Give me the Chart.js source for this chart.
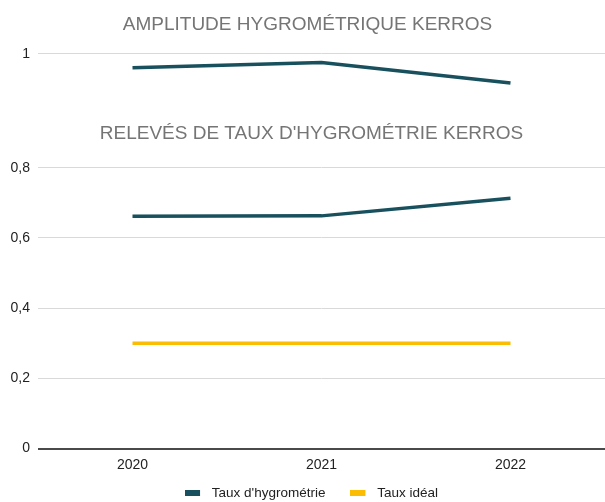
<!DOCTYPE html>
<html>
<head>
<meta charset="utf-8">
<script src="https://cdn.jsdelivr.net/npm/chart.js@4"></script>
<style>
  html, body { margin: 0; padding: 0; background: #fff; }
  #wrap { position: relative; width: 605px; height: 502px; overflow: hidden; }
  #topBox { position: absolute; left: 0; top: 0; width: 605px; height: 112px; }
  #mainBox { position: absolute; left: 0; top: 112px; width: 605px; height: 390px; background: #fff; }
</style>
</head>
<body>
<div id="wrap">
  <div id="topBox"><canvas id="amplitudeChart"></canvas></div>
  <div id="mainBox"><canvas id="tauxChart"></canvas></div>
</div>
<script>
// données
const annees = ['2020', '2021', '2022'];
const amplitude = [0.963, 0.977, 0.923];
const tauxHygrometrie = [0.662, 0.663, 0.713];
const tauxIdeal = [0.3, 0.3, 0.3];

const tealColor = '#18505d';
const yellowColor = '#fbbc04';
const fontFamily = '"Liberation Sans", Arial, sans-serif';

Chart.defaults.font.family = fontFamily;
Chart.defaults.animation = false;

const virgule = (v) => v.toString().replace('.', ',');

// les étiquettes ne doivent pas être coupées par la boîte de l'axe
const elargirAxes = {
    id: 'elargirAxes',
    afterLayout(chart) {
        const y = chart.scales.y;
        y.left = 0;
        y.width = y.right;
        const x = chart.scales.x;
        if (x.options.display !== false) {
            x.height = 30;
            x.bottom = x.top + 30;
        }
    }
};

// petit rectangle de légende suivi d'un espace
function symboleLegende(color) {
    const c = document.createElement('canvas');
    c.width = 20;
    c.height = 6;
    const g = c.getContext('2d');
    g.fillStyle = color;
    g.fillRect(0, 0, 15, 6);
    return c;
}

// graphique du haut (amplitude)
new Chart(document.getElementById('amplitudeChart').getContext('2d'), {
    type: 'line',
    data: {
        labels: annees,
        datasets: [{
            label: 'Amplitude',
            data: amplitude,
            borderColor: tealColor,
            backgroundColor: tealColor,
            borderWidth: 3.5,
            pointRadius: 0,
            tension: 0
        }]
    },
    options: {
        responsive: true,
        maintainAspectRatio: false,
        layout: { padding: { left: 10, right: 0, top: 0, bottom: 0 } },
        plugins: {
            legend: { display: false },
            tooltip: { enabled: false },
            title: {
                display: true,
                text: 'AMPLITUDE HYGROMÉTRIQUE KERROS',
                color: '#757575',
                font: { size: 19, weight: 'normal' },
                padding: { top: 13, bottom: 18 }
            }
        },
        scales: {
            x: {
                display: false,
                offset: true
            },
            y: {
                min: 0.89,
                max: 1,
                afterBuildTicks: (axis) => { axis.ticks = [{ value: 1 }]; },
                afterFit: (axis) => { axis.width = 28; },
                border: { display: false },
                grid: { color: '#d9d9d9', drawTicks: false },
                ticks: {
                    color: '#222',
                    padding: 8,
                    font: { size: 14 },
                    callback: (v) => virgule(v)
                }
            }
        }
    },
    plugins: [elargirAxes]
});

// graphique principal
new Chart(document.getElementById('tauxChart').getContext('2d'), {
    type: 'line',
    data: {
        labels: annees,
        datasets: [
            {
                label: "Taux d'hygrométrie",
                data: tauxHygrometrie,
                borderColor: tealColor,
                backgroundColor: tealColor,
                borderWidth: 3.5,
                pointRadius: 0,
                tension: 0
            },
            {
                label: 'Taux idéal',
                data: tauxIdeal,
                borderColor: yellowColor,
                backgroundColor: yellowColor,
                borderWidth: 3.5,
                pointRadius: 0,
                tension: 0
            }
        ]
    },
    options: {
        responsive: true,
        maintainAspectRatio: false,
        layout: { padding: { left: 18, right: 0, top: 0, bottom: -8 } },
        plugins: {
            tooltip: { enabled: false },
            title: {
                display: true,
                text: "RELEVÉS DE TAUX D'HYGROMÉTRIE KERROS",
                color: '#757575',
                font: { size: 19, weight: 'normal' },
                padding: { top: 10, bottom: 23 }
            },
            legend: {
                position: 'bottom',
                labels: {
                    color: '#222',
                    usePointStyle: true,
                    pointStyleWidth: 20,
                    boxHeight: 6,
                    padding: 25,
                    font: { size: 13.5 },
                    generateLabels: (chart) =>
                        Chart.defaults.plugins.legend.labels.generateLabels(chart).map((item) => ({
                            ...item,
                            pointStyle: symboleLegende(item.strokeStyle)
                        }))
                }
            }
        },
        scales: {
            x: {
                offset: true,
                border: { display: false },
                grid: { display: false, drawTicks: false },
                afterFit: (axis) => { axis.height = 13; },
                ticks: { color: '#222', font: { size: 14 }, padding: 8 }
            },
            y: {
                min: 0,
                max: 0.8,
                afterFit: (axis) => { axis.width = 20; },
                border: { display: false },
                grid: {
                    drawTicks: false,
                    color: (c) => (c.tick && c.tick.value === 0 ? '#4a4a4a' : '#d9d9d9'),
                    lineWidth: (c) => (c.tick && c.tick.value === 0 ? 2 : 1)
                },
                ticks: {
                    stepSize: 0.2,
                    color: '#222',
                    padding: 8,
                    font: { size: 14 },
                    callback: (v) => virgule(Math.round(v * 10) / 10)
                }
            }
        }
    },
    plugins: [elargirAxes]
});
</script>
</body>
</html>
